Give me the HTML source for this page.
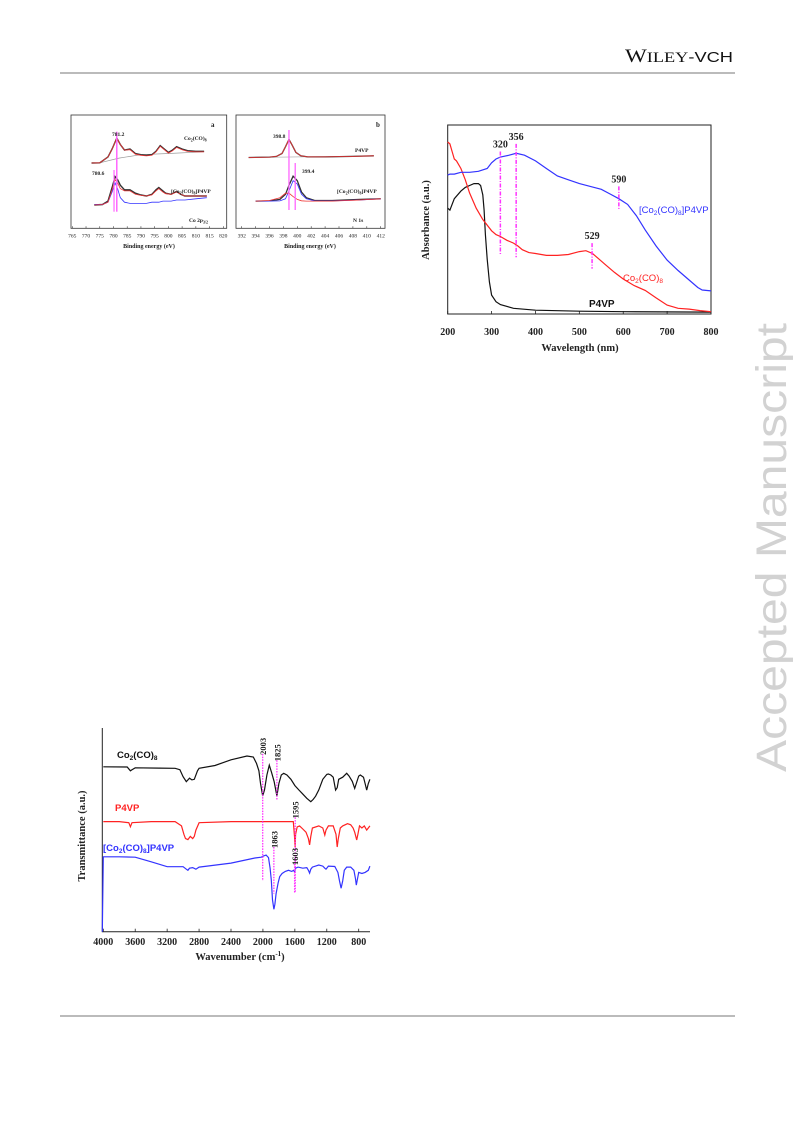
<!DOCTYPE html>
<html><head><meta charset="utf-8"><style>
html,body{margin:0;padding:0;background:#fff;}
svg{display:block;font-family:"Liberation Serif",serif;}
.sans{font-family:"Liberation Sans",sans-serif;}
</style></head><body>
<svg id="page" width="793" height="1121" viewBox="0 0 793 1121" xmlns="http://www.w3.org/2000/svg">
<rect width="793" height="1121" fill="#fff"/>
<g>
<text x="625" y="62" font-size="19" fill="#111" textLength="108" lengthAdjust="spacingAndGlyphs">W<tspan font-size="15">ILEY</tspan><tspan font-family="Liberation Sans" font-size="15">-VCH</tspan></text>
<rect x="60" y="72" width="675" height="2" fill="#bbb"/>
</g>
<rect x="60" y="1015" width="675" height="2" fill="#bbb"/>
<text class="sans" font-family="Liberation Sans" transform="translate(786,772) rotate(-90)" font-size="43" fill="#d2d2d2" textLength="449" lengthAdjust="spacingAndGlyphs">Accepted Manuscript</text>

<g id="xpsA"></g>
<g id="xpsB"></g>
<g id="uv"></g>
<g id="ir"></g>
</svg>
<script>
const NS="http://www.w3.org/2000/svg";
function el(parent,tag,attrs,text){const e=document.createElementNS(NS,tag);for(const k in attrs)e.setAttribute(k,attrs[k]);if(text!==undefined)e.textContent=text;parent.appendChild(e);return e;}
function pathD(xs,ys,sx,sy){return xs.map((x,i)=>(i?'L':'M')+sx(x).toFixed(1)+','+sy(ys[i]).toFixed(1)).join('');}
</script>

<script>
// ---- XPS panel a (Co 2p3/2) ----
const xpsATicks=[765,770,775,780,785,790,795,800,805,810,815,820];
const coCarbE=[772,775,778,779.5,781.2,782.5,784,786,788,790,792,794,795.5,797,798.5,800,801.5,803,805,807,810,813];
const coCarbI=[57.6,57.8,63,70,79.6,74,69,70,66,65,64.5,65,68,73,70,67,69,72,70,68.5,68,68];
const hybE=[773,776,778,779.5,780.6,781.5,782.5,784,786,788,790,792,794,795.5,796.5,798,799,801,803,804.5,806,810,814];
const hybI=[20.6,21,24,36,45.6,43,38,34,34,31,29.4,28.5,30,34,36,33,31,30,32.6,30,28.5,28.5,28.5];
const hybFitI=[20.6,21,23,34,43,40,35,33,33,30,29,28.5,29.5,33,35,32,30.5,30,32,30,28.5,28.5,28.5];
const hybPeakI=[21,21,23,32,40,35,27,23,22,22,22,22,23,23,23,24,24,24,25,25,25,26,27];
</script>
<script>
(function(){
const g=document.getElementById('xpsA');
const L=71,R=226.7,T=115,B=228.3;
const sx=v=>72.3+(v-765)*(151/55), sy=v=>B-(v/100)*(B-T);
let r=el(g,'rect',{x:L,y:T,width:R-L,height:B-T,fill:'none',stroke:'#333','stroke-width':0.8});

xpsATicks.forEach(t=>{el(g,'line',{x1:sx(t),x2:sx(t),y1:B,y2:B-2,stroke:'#333','stroke-width':0.6});
 let tl=el(g,'text',{x:sx(t),y:B+9,'font-size':5.5,'text-anchor':'middle',fill:'#222'},t);
 });
let xl=el(g,'text',{x:149,y:248,'font-size':6,'font-weight':'bold','text-anchor':'middle',fill:'#222'},'Binding energy (eV)');

el(g,'path',{d:pathD([775,782,790,800,813],[57.8,62,65,66,67.5],sx,sy),fill:'none',stroke:'#999','stroke-width':0.7});
let p1=el(g,'path',{d:pathD(coCarbE,coCarbI,sx,sy),fill:'none',stroke:'#333','stroke-width':1.4});

let p1f=el(g,'path',{d:pathD(coCarbE,coCarbI.map((v,i)=>coCarbE[i]<786?v:v-0.6),sx,sy),fill:'none',stroke:'#e33','stroke-width':0.8});

let p2=el(g,'path',{d:pathD(hybE,hybI,sx,sy),fill:'none',stroke:'#333','stroke-width':1.4});

let p3=el(g,'path',{d:pathD(hybE,hybPeakI,sx,sy),fill:'none',stroke:'#33f','stroke-width':0.8});

let p4=el(g,'path',{d:pathD(hybE,hybFitI,sx,sy),fill:'none',stroke:'#e33','stroke-width':0.8});

let m=el(g,'line',{x1:sx(781.2),x2:sx(781.2),y1:131.7,y2:211.7,stroke:'#f6f','stroke-width':1.5});

m=el(g,'line',{x1:sx(780.2),x2:sx(780.2),y1:170,y2:211.7,stroke:'#f6f','stroke-width':1.2});

const labs=[['781.2',112,136,'peak-label-781'],['780.6',92,175,'peak-label-780'],['a',211,127,'panel-label-a']];
labs.forEach(a=>{let t=el(g,'text',{x:a[1],y:a[2],'font-size':a[0]=='a'?7:5.5,'font-weight':'bold',fill:'#222'},a[0]);});
let t=el(g,'text',{x:184,y:140,'font-size':5.5,'font-weight':'bold',fill:'#222'});t.innerHTML='Co<tspan font-size="4" dy="1.5">2</tspan><tspan dy="-1.5">(CO)</tspan><tspan font-size="4" dy="1.5">8</tspan>';

t=el(g,'text',{x:171,y:193,'font-size':5.5,'font-weight':'bold',fill:'#222'});t.innerHTML='[Co<tspan font-size="4" dy="1.5">2</tspan><tspan dy="-1.5">(CO)</tspan><tspan font-size="4" dy="1.5">8</tspan><tspan dy="-1.5">]P4VP</tspan>';

t=el(g,'text',{x:189,y:222,'font-size':5.5,'font-weight':'bold',fill:'#222'});t.innerHTML='Co 2p<tspan font-size="4" dy="1.5">3/2</tspan>';

})();
</script>

<script>
// ---- XPS panel b (N 1s) ----
const xpsBTicks=[392,394,396,398,400,402,404,406,408,410,412];
const p4vpNE=[393,396,397,397.8,398.3,398.8,399.3,399.8,400.5,401.5,404,408,411];
const p4vpNI=[62.5,62.8,63.5,66,72,78.5,73,67,64,63,63,63.5,64];
const hybNE=[394,396,397.5,398.3,398.8,399.4,400,400.6,401.3,402.5,405,409,412];
const hybNI=[24,24.2,25.5,30,38,46,42,32,27,24.5,24.5,25.5,26];
const hybNBlue=[24,24,24.2,26,33,42,39,30,26,24.2,24.2,25,26];
const hybNRed=[24,24.5,27,31,31,28,25.5,24.3,24,24,24,25,26];
</script>
<script>
(function(){
const g=document.getElementById('xpsB');
const L=236,R=385,T=115,B=228.3;
const sx=v=>241.7+(v-392)*(139/20), sy=v=>B-(v/100)*(B-T);
let r=el(g,'rect',{x:L,y:T,width:R-L,height:B-T,fill:'none',stroke:'#333','stroke-width':0.8});

xpsBTicks.forEach(t=>{el(g,'line',{x1:sx(t),x2:sx(t),y1:B,y2:B-2,stroke:'#333','stroke-width':0.6});
 let tl=el(g,'text',{x:sx(t),y:B+9,'font-size':5.5,'text-anchor':'middle',fill:'#222'},t);
 });
let xl=el(g,'text',{x:310,y:248,'font-size':6,'font-weight':'bold','text-anchor':'middle',fill:'#222'},'Binding energy (eV)');

el(g,'line',{x1:sx(393),x2:sx(411),y1:sy(62.5),y2:sy(63.8),stroke:'#aaa','stroke-width':0.7});
let p=el(g,'path',{d:pathD(p4vpNE,p4vpNI,sx,sy),fill:'none',stroke:'#333','stroke-width':1.3});

p=el(g,'path',{d:pathD(p4vpNE,p4vpNI,sx,sy),fill:'none',stroke:'#e33','stroke-width':0.8});

p=el(g,'path',{d:pathD(hybNE,hybNI,sx,sy),fill:'none',stroke:'#333','stroke-width':1.3});

p=el(g,'path',{d:pathD(hybNE,hybNBlue,sx,sy),fill:'none',stroke:'#33f','stroke-width':0.8});

p=el(g,'path',{d:pathD(hybNE,hybNRed,sx,sy),fill:'none',stroke:'#e33','stroke-width':0.8});

let m=el(g,'line',{x1:sx(398.8),x2:sx(398.8),y1:130,y2:210,stroke:'#f6f','stroke-width':1.3});

m=el(g,'line',{x1:sx(399.7),x2:sx(399.7),y1:163,y2:210,stroke:'#f6f','stroke-width':1.3});

const labs=[['398.8',273,138,'peak-label-398'],['399.4',302,173,'peak-label-399'],['P4VP',355,152,'p4vp-label'],['N 1s',353,222,'n1s-label'],['b',376,127,'panel-label-b']];
labs.forEach(a=>{let t=el(g,'text',{x:a[1],y:a[2],'font-size':a[0]=='b'?7:5.5,'font-weight':'bold',fill:'#222'},a[0]);});
let t=el(g,'text',{x:337,y:193,'font-size':5.5,'font-weight':'bold',fill:'#222'});t.innerHTML='[Co<tspan font-size="4" dy="1.5">2</tspan><tspan dy="-1.5">(CO)</tspan><tspan font-size="4" dy="1.5">8</tspan><tspan dy="-1.5">]P4VP</tspan>';

})();
</script>

<script>
// ---- UV-vis ----
const uvTicks=[200,300,400,500,600,700,800];
const blueWl=[200,205,215,230,250,270,290,300,310,320,340,356,375,400,425,450,475,500,525,550,570,590,610,630,650,675,700,725,750,770,780,800];
const blueA=[0.735,0.74,0.74,0.75,0.75,0.755,0.77,0.80,0.82,0.83,0.84,0.85,0.84,0.81,0.77,0.73,0.71,0.69,0.675,0.66,0.635,0.61,0.58,0.52,0.445,0.36,0.285,0.23,0.18,0.14,0.127,0.122];
const redWl=[200,205,210,215,220,230,240,250,265,280,300,310,320,335,350,360,370,385,400,425,450,475,500,515,530,545,560,580,600,625,650,675,700,725,750,775,800];
const redA=[0.91,0.90,0.86,0.82,0.81,0.77,0.71,0.64,0.56,0.50,0.44,0.42,0.41,0.39,0.375,0.36,0.34,0.325,0.32,0.31,0.31,0.315,0.33,0.335,0.32,0.29,0.26,0.22,0.185,0.15,0.125,0.085,0.047,0.03,0.026,0.018,0.012];
const blackWl=[200,205,215,230,240,250,260,270,275,280,283,286,290,295,300,310,320,350,400,500,600,800];
const blackA=[0.56,0.55,0.61,0.65,0.67,0.68,0.69,0.69,0.68,0.63,0.55,0.42,0.29,0.17,0.10,0.065,0.05,0.03,0.02,0.015,0.012,0.01];
const uvMarkWl=[320,356,529,590];
const uvMarkLabels=['320','356','529','590'];
const uvMarkA=[[0.31,0.86],[0.30,0.90],[0.24,0.375],[0.55,0.675]];
</script>
<script>
(function(){
const g=document.getElementById('uv');
const L=447.7,R=711,T=125,B=314;
const sx=v=>L+(v-200)*(R-L)/600, sy=v=>B-v*(B-T);
let r=el(g,'rect',{x:L,y:T,width:R-L,height:B-T,fill:'none',stroke:'#222','stroke-width':1});

uvTicks.forEach(t=>{el(g,'line',{x1:sx(t),x2:sx(t),y1:B,y2:B-3,stroke:'#222','stroke-width':0.8});
 let tl=el(g,'text',{x:sx(t),y:335,'font-size':10,'font-weight':'bold','text-anchor':'middle',fill:'#222'},t);
 });
let xl=el(g,'text',{x:580,y:351,'font-size':10.5,'font-weight':'bold','text-anchor':'middle',fill:'#222'},'Wavelength (nm)');

let yl=el(g,'text',{transform:'translate(429,220) rotate(-90)','font-size':10.5,'font-weight':'bold','text-anchor':'middle',fill:'#222'},'Absorbance (a.u.)');

let p=el(g,'path',{d:pathD(blackWl,blackA,sx,sy),fill:'none',stroke:'#111','stroke-width':1.2});

p=el(g,'path',{d:pathD(redWl,redA,sx,sy),fill:'none',stroke:'#f22','stroke-width':1.2});

p=el(g,'path',{d:pathD(blueWl,blueA,sx,sy),fill:'none',stroke:'#33f','stroke-width':1.2});

uvMarkWl.forEach((w,i)=>{let m=el(g,'line',{x1:sx(w),x2:sx(w),y1:sy(uvMarkA[i][1]),y2:sy(uvMarkA[i][0]),stroke:'#f3f','stroke-width':1.5,'stroke-dasharray':'4,1.5,1,1.5'});
 
 let t=el(g,'text',{x:sx(w),y:sy(uvMarkA[i][1])-4,'font-size':10,'font-weight':'bold','text-anchor':'middle',fill:'#222'},uvMarkLabels[i]);
 });
let t=el(g,'text',{x:639,y:213,'font-size':9.5,fill:'#33f',class:'sans','font-family':'Liberation Sans'});t.innerHTML='[Co<tspan font-size="6.5" dy="2">2</tspan><tspan dy="-2">(CO)</tspan><tspan font-size="6.5" dy="2">8</tspan><tspan dy="-2">]P4VP</tspan>';

t=el(g,'text',{x:623,y:281,'font-size':9.5,fill:'#f22','font-family':'Liberation Sans'});t.innerHTML='Co<tspan font-size="6.5" dy="2">2</tspan><tspan dy="-2">(CO)</tspan><tspan font-size="6.5" dy="2">8</tspan>';

t=el(g,'text',{x:589,y:307,'font-size':10,'font-weight':'bold',fill:'#111','font-family':'Liberation Sans'},'P4VP');

})();
</script>

<script>
// ---- FTIR ----
const irTicks=[4000,3600,3200,2800,2400,2000,1600,1200,800];
const blackWn=[4000,3700,3660,3640,3600,3300,3100,3040,3000,2960,2920,2890,2860,2820,2800,2600,2400,2200,2120,2080,2050,2030,2003,1980,1950,1920,1890,1860,1825,1800,1770,1740,1700,1650,1600,1550,1500,1450,1400,1370,1340,1300,1250,1200,1180,1150,1120,1090,1070,1050,1000,950,920,880,850,830,800,780,740,720,700,680,660];
const blackT=[77.9,77.8,76,76.5,77.4,77.3,77.2,76.5,73.2,70.9,72.5,71.7,72,76,77.2,78.5,81.2,83,82.5,79.5,76,70.1,64.1,67,74,78.7,75,71,64.1,70,74,74.8,74,72,69,67,65,63,61.4,62.5,64,67,72,74.3,74.5,74,73,66.9,68,72,73,74.8,73.5,71,67.7,70,73.5,74,73,70,66.9,70,72];
const redWn=[4000,3800,3680,3660,3640,3400,3100,3020,2990,2970,2940,2910,2880,2860,2840,2800,2400,2000,1620,1605,1597,1590,1570,1540,1500,1460,1430,1415,1400,1380,1300,1250,1225,1210,1180,1120,1085,1070,1055,1030,1000,940,900,870,850,825,810,790,760,730,700,680,660];
const redT=[52,52,51.5,49.6,51.5,52,52,50,46,44,43.5,45,44,45,48,51.5,52,52,52,45,40,46,49.5,50,48.5,47,44,41,45,49,50,49,45.7,48,50,50,46,40,44,49,50,51,50.5,49,47,43.3,46,50,49,50,48,49,50];
const blueWn=[4000,3800,3600,3400,3200,3000,2960,2940,2920,2880,2840,2800,2700,2400,2100,2020,1990,1960,1930,1910,1895,1880,1863,1850,1835,1810,1790,1760,1720,1680,1640,1615,1603,1590,1560,1500,1450,1430,1415,1400,1380,1300,1250,1225,1210,1180,1100,1060,1040,1020,1000,980,950,900,860,840,830,815,800,760,720,680,660];
const blueT=[35.4,35.4,35.2,33,30.7,30.7,29.5,29,30,30.3,29.5,30.5,31,32.4,34.8,35.2,35.8,36.2,35,30,24.4,15,10.6,13,18,23,26,27.5,28.5,29,28.5,29,28.3,30,30.5,30,30.3,29,27.7,29.5,30.5,31.5,31,30,29.5,31,30.8,28,24,20.5,24,29,30.5,30.5,29,25,22,25,28,27.5,28,29,31];
const irMarkWn=[2003,1825,1595,1863,1603];
const irMarkLabels=['2003','1825','1595','1863','1603'];
const irMarkT=[[24,84],[62,81],[18.5,54],[18,40],[18,32]];
</script>
<script>
(function(){
const g=document.getElementById('ir');
const L=102.3,R=370,B=931.7,T=720;
const sx=v=>103.3+(4000-v)*(255.4/3200), sy=v=>B-v*(B-T)/100;
let a=el(g,'path',{d:`M${L},${T+8}L${L},${B}L${R},${B}`,fill:'none',stroke:'#222','stroke-width':1});

irTicks.forEach(t=>{el(g,'line',{x1:sx(t),x2:sx(t),y1:B,y2:B-3,stroke:'#222','stroke-width':0.8});
 let tl=el(g,'text',{x:sx(t),y:945,'font-size':10,'font-weight':'bold','text-anchor':'middle',fill:'#222'},t);
 });
let xl=el(g,'text',{x:240,y:960,'font-size':10.5,'font-weight':'bold','text-anchor':'middle',fill:'#222'});
xl.innerHTML='Wavenumber (cm<tspan font-size="7" dy="-4">-1</tspan><tspan dy="4">)</tspan>';

let yl=el(g,'text',{transform:'translate(85,836) rotate(-90)','font-size':10.5,'font-weight':'bold','text-anchor':'middle',fill:'#222'},'Transmittance (a.u.)');

let p=el(g,'path',{d:pathD(blackWn,blackT,sx,sy),fill:'none',stroke:'#111','stroke-width':1.2});

p=el(g,'path',{d:pathD(redWn,redT,sx,sy),fill:'none',stroke:'#f22','stroke-width':1.2});

p=el(g,'path',{d:`M${L},${B}`+pathD(blueWn,blueT,sx,sy).replace('M','L'),fill:'none',stroke:'#33f','stroke-width':1.2});

irMarkWn.forEach((w,i)=>{let m=el(g,'line',{x1:sx(w),x2:sx(w),y1:sy(irMarkT[i][1]),y2:sy(irMarkT[i][0]),stroke:'#f3f','stroke-width':1.3,'stroke-dasharray':'1.5,1.2'});
 
 let t=el(g,'text',{transform:`translate(${sx(w)+3.5},${sy(irMarkT[i][1])+1}) rotate(-90)`,'font-size':8.5,'font-weight':'bold',fill:'#222'},irMarkLabels[i]);
 });
let t=el(g,'text',{x:117,y:758,'font-size':9.5,fill:'#111','font-weight':'bold','font-family':'Liberation Sans'});t.innerHTML='Co<tspan font-size="6.5" dy="2">2</tspan><tspan dy="-2">(CO)</tspan><tspan font-size="6.5" dy="2">8</tspan>';

t=el(g,'text',{x:115,y:811,'font-size':9.5,fill:'#f22','font-weight':'bold','font-family':'Liberation Sans'},'P4VP');

t=el(g,'text',{x:103,y:851,'font-size':9.5,fill:'#33f','font-weight':'bold','font-family':'Liberation Sans'});t.innerHTML='[Co<tspan font-size="6.5" dy="2">2</tspan><tspan dy="-2">(CO)</tspan><tspan font-size="6.5" dy="2">8</tspan><tspan dy="-2">]P4VP</tspan>';

})();
</script>
</body></html>
